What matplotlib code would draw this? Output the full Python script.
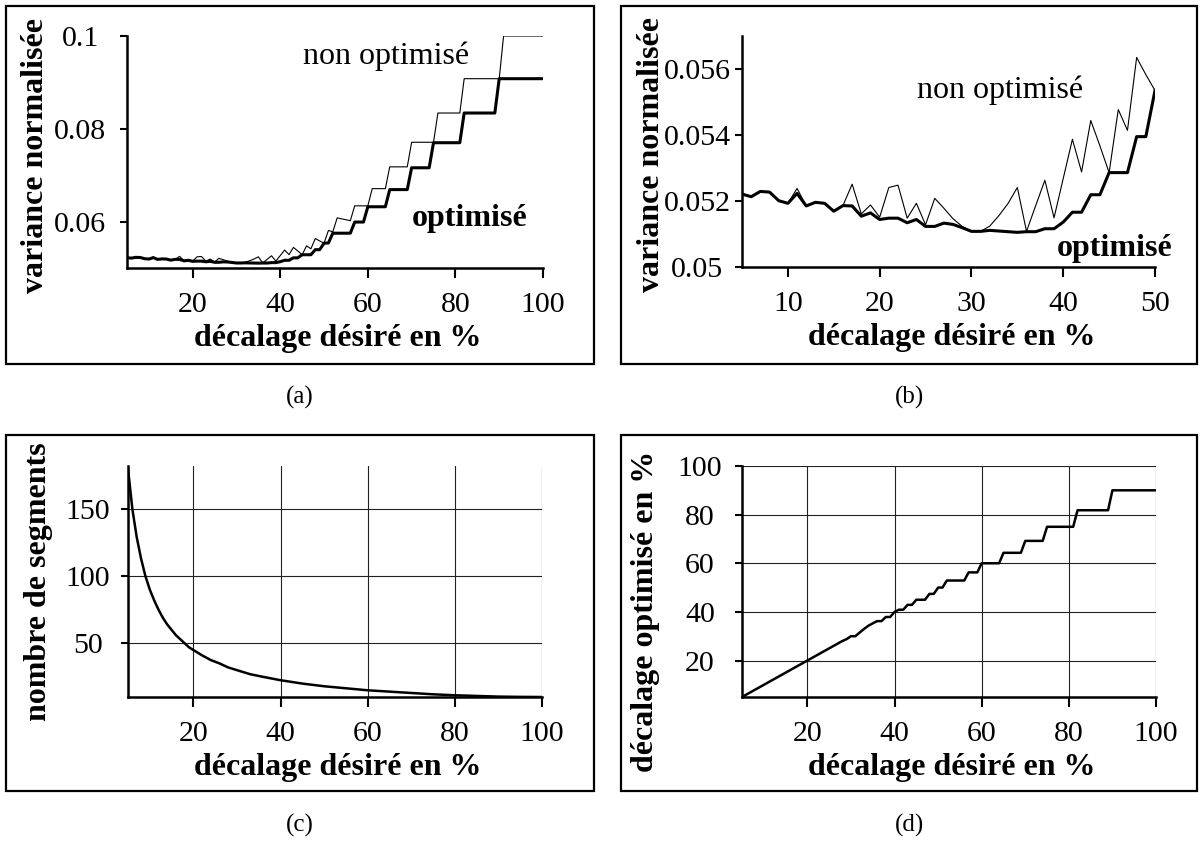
import matplotlib
matplotlib.use("Agg")
import matplotlib.pyplot as plt
from matplotlib.patches import Rectangle

plt.rcParams['font.family'] = ['Liberation Serif', 'DejaVu Serif']

# desired shift (%) for panels (a), (b), (d)
x_pct = list(range(5, 101))

# normalised variance, optimised (thick) and non optimised (thin), x = 5..100
var_opt = [
    0.05221, 0.05213, 0.05229, 0.05227, 0.05201, 0.05193, 0.05223, 0.05185, 0.05196, 0.05193,
    0.05169, 0.05186, 0.05185, 0.05154, 0.05164, 0.05144, 0.05148, 0.05148, 0.05134, 0.05144,
    0.05123, 0.05123, 0.05133, 0.05129, 0.05119, 0.05108, 0.05108, 0.05111, 0.05109, 0.05107,
    0.05105, 0.05107, 0.05107, 0.05116, 0.05116, 0.05136, 0.05166, 0.05166, 0.05219, 0.05219,
    0.05286, 0.05286, 0.05286, 0.05395, 0.05395, 0.05535, 0.05540, 0.0575, 0.0575, 0.0575,
    0.0575, 0.0575, 0.0599, 0.0599, 0.0599, 0.0632, 0.0632, 0.0632, 0.0632, 0.0632,
    0.0669, 0.0669, 0.0669, 0.0669, 0.0669, 0.0716, 0.0716, 0.0716, 0.0716, 0.0716,
    0.0770, 0.0770, 0.0770, 0.0770, 0.0770, 0.0770, 0.0770, 0.0834, 0.0834, 0.0834,
    0.0834, 0.0834, 0.0834, 0.0834, 0.0834, 0.0908, 0.0908, 0.0908, 0.0908, 0.0908,
    0.0908, 0.0908, 0.0908, 0.0908, 0.0908, 0.0908,
]
var_nonopt = [
    0.05221, 0.05213, 0.05229, 0.05227, 0.05201, 0.05193, 0.05238, 0.05185, 0.05196, 0.05193,
    0.05169, 0.05186, 0.05251, 0.05161, 0.05188, 0.05151, 0.05241, 0.05248, 0.05148, 0.05193,
    0.05128, 0.05208, 0.05178, 0.05146, 0.05123, 0.05108, 0.05108, 0.05124, 0.05156, 0.05193,
    0.05241, 0.05108, 0.05186, 0.05263, 0.05149, 0.05268, 0.05387, 0.05288, 0.05444, 0.05367,
    0.05286, 0.05477, 0.05414, 0.05635, 0.05583, 0.05535, 0.0581, 0.0578, 0.0608, 0.0606,
    0.0604, 0.0602, 0.0634, 0.0634, 0.0634, 0.0634, 0.0671, 0.0671, 0.0671, 0.0671,
    0.0718, 0.0718, 0.0718, 0.0718, 0.0718, 0.0771, 0.0771, 0.0771, 0.0771, 0.0771,
    0.0771, 0.0834, 0.0834, 0.0834, 0.0834, 0.0834, 0.0834, 0.0908, 0.0908, 0.0908,
    0.0908, 0.0908, 0.0908, 0.0908, 0.0908, 0.0908, 0.1, 0.1, 0.1, 0.1,
    0.1, 0.1, 0.1, 0.1, 0.1, 0.1,
]

# (c) number of segments
seg_x = [5, 6, 7, 8, 9, 10, 11, 12, 13, 14, 15, 16, 17, 18, 19, 20, 22, 24, 26, 28,
         30, 33, 36, 40, 45, 50, 55, 60, 65, 70, 75, 80, 85, 90, 95, 100]
seg_n = [180, 150, 129, 113, 100, 90, 82, 75, 69, 64, 60, 56, 53, 50, 47, 45, 41, 37.5, 35, 32,
         30, 27, 25, 22.5, 20, 18, 16.5, 15, 14, 13, 12, 11.3, 10.8, 10.3, 10.1, 10]

# (d) optimised shift, x = 5..100
opt_shift = [
    5, 6, 7, 8, 9, 10, 11, 12, 13, 14,
    15, 16, 17, 18, 19, 20, 21, 22, 23, 24,
    25, 26, 27, 28, 28.8, 30, 30, 31.5, 33, 34.3,
    35.3, 36.2, 36.2, 37.9, 37.9, 40, 40.9, 40.9, 42.9, 42.9,
    45, 45, 45, 47.4, 47.4, 50, 50, 52.9, 52.9, 52.9,
    52.9, 52.9, 56.25, 56.25, 56.25, 60, 60, 60, 60, 60,
    64.3, 64.3, 64.3, 64.3, 64.3, 69.2, 69.2, 69.2, 69.2, 69.2,
    75, 75, 75, 75, 75, 75, 75, 81.8, 81.8, 81.8,
    81.8, 81.8, 81.8, 81.8, 81.8, 90, 90, 90, 90, 90,
    90, 90, 90, 90, 90, 90,
]

W, H = 1204, 841
fig = plt.figure(figsize=(W / 100, H / 100), dpi=100)


def px_axes(l, r, t, b):
    return fig.add_axes([l / W, 1 - b / H, (r - l) / W, (b - t) / H])


def style(ax, xt, yt, ytl, ypad):
    for s in ("top", "right"):
        ax.spines[s].set_visible(False)
    for s in ("left", "bottom"):
        ax.spines[s].set_linewidth(1.8)
    ax.set_xticks(xt)
    ax.set_yticks(yt)
    ax.set_yticklabels(ytl)
    ax.tick_params(axis="x", direction="out", length=7, width=1.5, pad=10, labelsize=21.5)
    ax.tick_params(axis="y", direction="out", length=5, width=1.5, pad=ypad, labelsize=21.5)
    for lab in ax.get_yticklabels():
        lab.set_horizontalalignment("center")


def labels(ax, xl, yl, ylx, yly=0.49):
    ax.text(0.507, -0.305, xl, transform=ax.transAxes, ha="center", va="center",
            fontsize=23, fontweight="bold")
    ax.text(ylx, yly, yl, transform=ax.transAxes, ha="center", va="center",
            rotation=90, fontsize=23, fontweight="bold")


# frames and captions
for (x0, x1, y0, y1) in [(6, 594, 6, 364), (621, 1197, 6, 364), (6, 594, 435, 791), (621, 1197, 435, 791)]:
    fig.add_artist(Rectangle((x0 / W, 1 - y1 / H), (x1 - x0) / W, (y1 - y0) / H,
                             transform=fig.transFigure, fill=False, lw=1.6, ec="black"))
for cx, cy, t in [(300, 397, "(a)"), (909, 397, "(b)"), (300, 825, "(c)"), (909, 825, "(d)")]:
    fig.text(cx / W, 1 - cy / H, t, ha="center", va="center", fontsize=18)

# (a)
ax = px_axes(127, 543, 36, 268)
ax.plot(x_pct, var_nonopt, color="black", lw=0.8)
ax.plot(x_pct, var_opt, color="black", lw=2.2)
ax.set_xlim(5, 100)
ax.set_ylim(0.05, 0.1)
style(ax, [20, 40, 60, 80, 100], [0.06, 0.08, 0.1], ["0.06", "0.08", "0.1"], 28.8)
labels(ax, "décalage désiré en %", "variance normalisée", -0.219, 0.485)
ax.text(45.2, 0.0957, "non optimisé", fontsize=23, va="center")
ax.text(70, 0.0606, "optimisé", fontsize=23, fontweight="bold", va="center")

# (b)
ax = px_axes(742, 1155, 36, 267)
ax.plot(x_pct[:46], var_nonopt[:46], color="black", lw=0.8)
ax.plot(x_pct[:46], var_opt[:46], color="black", lw=2.2)
ax.set_xlim(5, 50)
ax.set_ylim(0.05, 0.057)
style(ax, [10, 20, 30, 40, 50], [0.05, 0.052, 0.054, 0.056],
      ["0.05", "0.052", "0.054", "0.056"], 27.4)
labels(ax, "décalage désiré en %", "variance normalisée", -0.22, 0.489)
ax.text(24.1, 0.05537, "non optimisé", fontsize=23, va="center")
ax.text(39.3, 0.05056, "optimisé", fontsize=23, fontweight="bold", va="center")

# (c)
ax = px_axes(128, 542, 466, 697)
ax.grid(True, color="#222222", lw=0.8)
ax.set_axisbelow(True)
ax.plot(seg_x, seg_n, color="black", lw=1.8)
ax.set_xlim(5, 100)
ax.set_ylim(10, 182)
style(ax, [20, 40, 60, 80, 100], [50, 100, 150], ["50", "100", "150"], 23.8)
labels(ax, "décalage désiré en %", "nombre de segments", -0.217, 0.5)

# (d)
ax = px_axes(742, 1156, 466, 697)
ax.grid(True, color="#222222", lw=0.8)
ax.set_axisbelow(True)
ax.plot(x_pct, opt_shift, color="black", lw=1.8)
ax.set_xlim(5, 100)
ax.set_ylim(5, 100)
style(ax, [20, 40, 60, 80, 100], [20, 40, 60, 80, 100], ["20", "40", "60", "80", "100"], 25.2)
labels(ax, "décalage désiré en %", "décalage optimisé en %", -0.232, 0.372)

fig.savefig("out.png", dpi=100)
